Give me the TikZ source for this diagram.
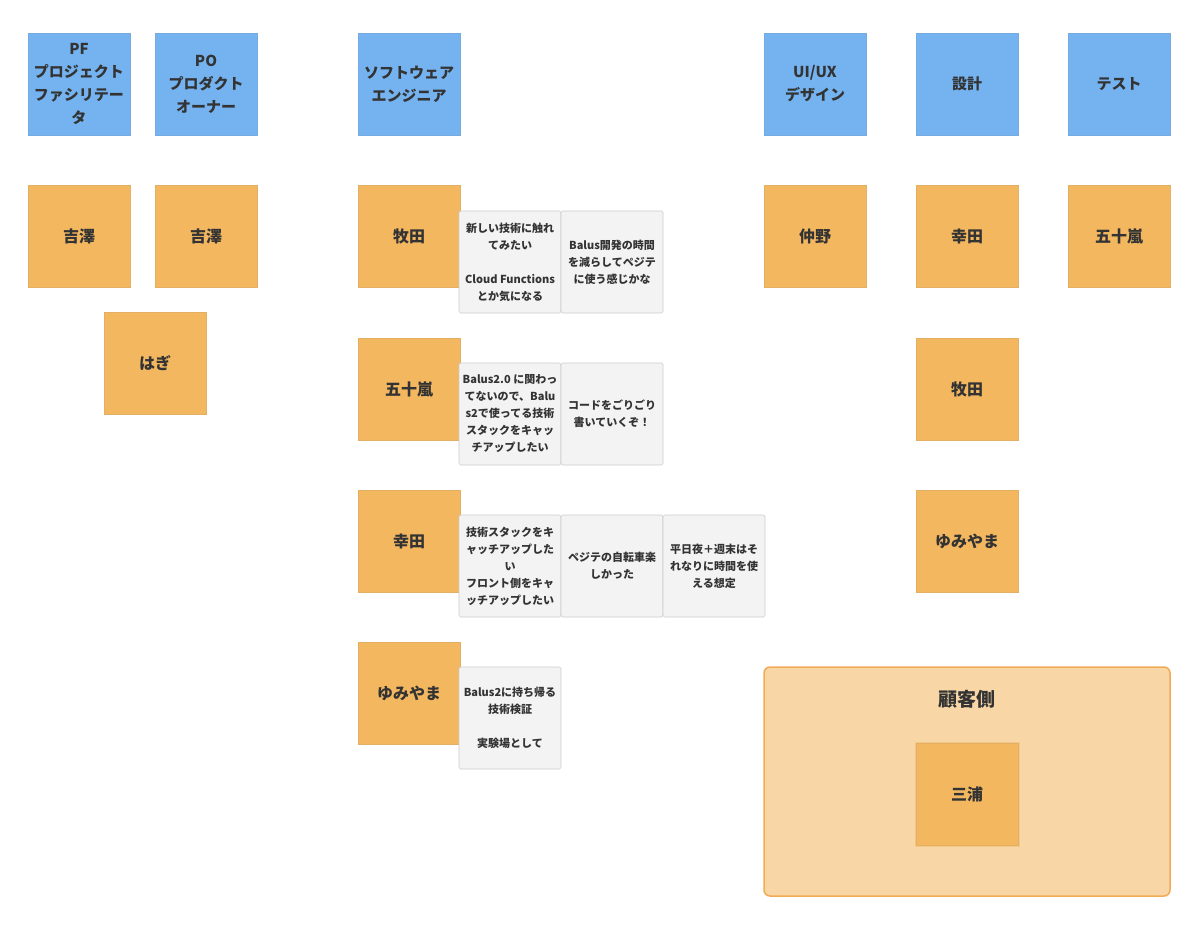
\documentclass[tikz,border=0pt]{standalone}
\usepackage{fontspec}
\setmainfont{Noto Sans CJK JP}
\definecolor{roleblue}{HTML}{74B3F0}
\definecolor{nameorange}{HTML}{F3B760}
\definecolor{notegrey}{HTML}{F3F3F3}
\definecolor{groupfill}{HTML}{F8D6A6}
\definecolor{groupline}{HTML}{F2AB55}
\definecolor{inkgrey}{HTML}{333333}
\begin{document}
\begin{tikzpicture}[
    x=1pt, y=-1pt,
    role/.style={rectangle, fill=roleblue, draw=roleblue!85!gray, line width=0.6pt, minimum size=102pt, inner sep=1pt, align=center, text=inkgrey, font=\fontsize{15}{23}\selectfont\bfseries},
    member/.style={rectangle, fill=nameorange, draw=nameorange!85!gray, line width=0.6pt, minimum size=102pt, inner sep=1pt, align=center, text=inkgrey, font=\fontsize{16}{20}\selectfont\bfseries},
    memo/.style={rectangle, fill=notegrey, draw=black!20, line width=0.6pt, rounded corners=1.5pt, minimum size=102pt, inner sep=1pt, align=center, text=inkgrey, font=\fontsize{11}{17}\selectfont\bfseries},
    group/.style={rectangle, fill=groupfill, draw=groupline, line width=1.5pt, rounded corners=6pt},
    halo/.style={preaction={draw=nameorange!45!groupfill, line width=3pt}}
]
\useasboundingbox (0,0) rectangle (1200,928);

% Roles (top row)
\node[role] (pf) at (79,84) {PF\\プロジェクト\\ファシリテー\\タ};
\node[role] (po) at (206,84) {PO\\プロダクト\\オーナー};
\node[role] (se) at (409,84) {ソフトウェア\\エンジニア};
\node[role] (uiux) at (815,84) {UI/UX\\デザイン};
\node[role] (design) at (967,84) {設計};
\node[role] (test) at (1119,84) {テスト};

% Members
\node[member] (pf1) at (79,236) {吉澤};
\node[member] (po1) at (206,236) {吉澤};
\node[member] (hagi) at (155,363) {はぎ};
\node[member] (se1) at (409,236) {牧田};
\node[member] (se2) at (409,389) {五十嵐};
\node[member] (se3) at (409,541) {幸田};
\node[member] (se4) at (409,693) {ゆみやま};
\node[member] (uiux1) at (815,236) {仲野};
\node[member] (design1) at (967,236) {幸田};
\node[member] (design2) at (967,389) {牧田};
\node[member] (design3) at (967,541) {ゆみやま};
\node[member] (test1) at (1119,236) {五十嵐};

% Memos of the engineers
\node[memo] (m11) at (510,262) {新しい技術に触れ\\てみたい\\ ~\\Cloud Functions\\とか気になる};
\node[memo] (m12) at (612,262) {Balus開発の時間\\を減らしてペジテ\\に使う感じかな};
\node[memo] (m21) at (510,414) {Balus2.0 に関わっ\\てないので、Balu\\s2で使ってる技術\\スタックをキャッ\\チアップしたい};
\node[memo] (m22) at (612,414) {コードをごりごり\\書いていくぞ！};
\node[memo] (m31) at (510,566) {技術スタックをキ\\ャッチアップした\\い\\フロント側をキャ\\ッチアップしたい};
\node[memo] (m32) at (612,566) {ペジテの自転車楽\\しかった};
\node[memo] (m33) at (714,566) {平日夜＋週末はそ\\れなりに時間を使\\える想定};
\node[memo] (m41) at (510,718) {Balus2に持ち帰る\\技術検証\\ ~\\実験場として};

% Customer side
\draw[group] (764,667) rectangle (1170,896);
\node[text=inkgrey, font=\fontsize{19}{22}\selectfont\bfseries] (client) at (967,699) {顧客側};
\node[member, halo] (miura) at (967,794) {三浦};

\end{tikzpicture}
\end{document}
